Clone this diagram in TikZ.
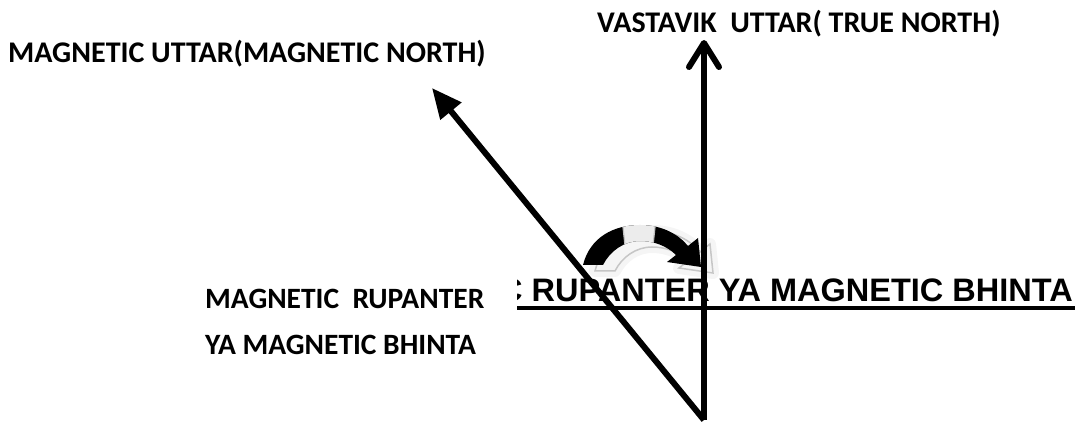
\documentclass[tikz,border=0pt]{standalone}
\usepackage{fontspec}
\usepackage{tikz}
\usetikzlibrary{arrows.meta}
\newfontfamily\calibrib{Carlito}[BoldFont=* Bold]
\newfontfamily\arialb{Liberation Sans}[BoldFont=* Bold]
\newcommand\bendshape{(583,158) .. controls (590,186) and (614,198) .. (640,198)
  .. controls (663,198) and (679,188) .. (688,177) -- (698,185)
  -- (701,156) -- (667,161) -- (676,168)
  .. controls (667,177) and (654,182) .. (640,182)
  .. controls (624,182) and (610,172) .. (603,158) -- cycle}

\begin{document}
\begin{tikzpicture}[
  x=1pt, y=1pt,
  label/.style={inner sep=0pt, font=\calibrib\bfseries\fontsize{29.5}{46}\selectfont, align=left},
  toplabel/.style={label, font=\calibrib\bfseries\fontsize{30}{36}\selectfont},
  biglabel/.style={inner sep=0pt, font=\arialb\bfseries\fontsize{32.5}{38}\selectfont},
  truearrow/.style={line width=6pt, -{Straight Barb[round, length=24pt, width=30pt]}},
  magarrow/.style={line width=6pt, -{Triangle[length=30pt, width=26pt]}}
]
\useasboundingbox (0,0) rectangle (1076,423);

% texts
\node[toplabel, anchor=base west] (truenorth) at (597,390) {VASTAVIK~ UTTAR( TRUE NORTH)};
\node[toplabel, anchor=base west] (magnorth) at (8,360) {MAGNETIC UTTAR(MAGNETIC NORTH)};
\node[label, anchor=north west] (declleft) at (205,134) {MAGNETIC~ RUPANTER\\YA MAGNETIC BHINTA};

% clipped underlined heading
\begin{scope}
  \clip (517,100) rectangle (1076,160);
  \node[biglabel, anchor=base east] (declright) at (1073,121) {C RUPANTER YA MAGNETIC BHINTA};
\end{scope}
\draw[line width=4pt] (517,115) -- (1075,115);

% curved arrow with its shading
\begin{scope}[xshift=12pt, yshift=-6pt]
  \filldraw[fill=gray!8, draw=gray!8, line width=12pt, line join=round] \bendshape;
  \draw[gray!45, line width=1.5pt] \bendshape;
\end{scope}
\fill[black] \bendshape;
\begin{scope}
  \clip \bendshape;
  \filldraw[fill=gray!15, draw=gray!50, line width=1.2pt] (628,150) -- (650,150) -- (656,205) -- (622,205) -- cycle;
\end{scope}

% the two norths
\coordinate (base) at (704,3);
\coordinate (truetip) at (704,383);
\coordinate (magtip) at (432,335);
\draw[truearrow] (base) -- (truetip);
\draw[magarrow] (base) -- (magtip);
\end{tikzpicture}
\end{document}
